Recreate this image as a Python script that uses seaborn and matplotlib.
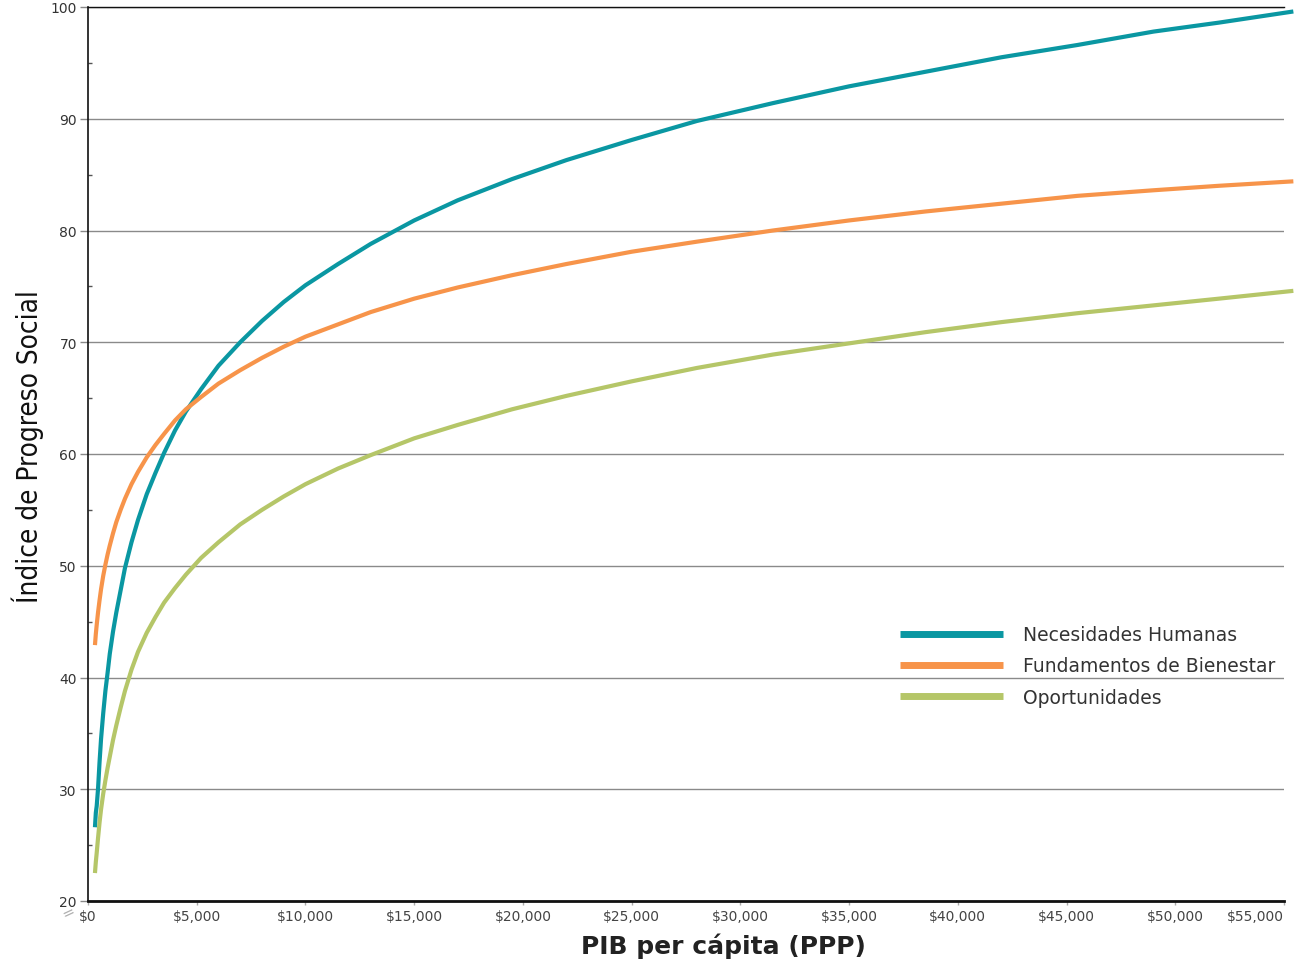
import matplotlib
matplotlib.use("Agg")
import matplotlib.pyplot as plt
import seaborn as sns
import pandas as pd
from matplotlib.ticker import MultipleLocator, FuncFormatter

# PIB per cápita (PPP) sample points
pib = [320, 360, 400, 460, 530, 600, 700, 800, 900, 1000, 1150, 1300, 1500, 1700, 2000, 2300,
       2700, 3100, 3500, 4000, 4500, 5200, 6000, 7000, 8000, 9000, 10000, 11500, 13000, 15000,
       17000, 19500, 22000, 25000, 28000, 31500, 35000, 38500, 42000, 45500, 49000, 52000, 55430]

necesidades = [26.6, 27.9, 28.5, 30.0, 32.4, 34.5, 36.8, 38.8, 40.4, 42.1, 44.1, 45.8, 47.8,
               49.8, 52.1, 54.1, 56.4, 58.3, 60.1, 62.1, 63.8, 65.8, 67.9, 70.0, 71.9, 73.6,
               75.1, 77.0, 78.8, 80.9, 82.7, 84.6, 86.3, 88.1, 89.8, 91.4, 92.9, 94.2, 95.5,
               96.6, 97.8, 98.6, 99.6]

fundamentos = [42.9, 43.9, 44.7, 45.8, 46.9, 47.9, 49.1, 50.1, 51.0, 51.8, 52.9, 53.9, 55.0,
               56.0, 57.3, 58.4, 59.7, 60.8, 61.8, 63.0, 64.0, 65.1, 66.3, 67.5, 68.6, 69.6,
               70.5, 71.6, 72.7, 73.9, 74.9, 76.0, 77.0, 78.1, 79.0, 80.0, 80.9, 81.7, 82.4,
               83.1, 83.6, 84.0, 84.4]

oportunidades = [22.5, 23.5, 24.3, 25.6, 27.0, 28.2, 29.6, 30.8, 31.9, 32.9, 34.4, 35.7, 37.3,
                 38.8, 40.7, 42.3, 44.0, 45.4, 46.7, 48.0, 49.2, 50.7, 52.1, 53.7, 55.0, 56.2,
                 57.3, 58.7, 59.9, 61.4, 62.6, 64.0, 65.2, 66.5, 67.7, 68.9, 69.9, 70.9, 71.8,
                 72.6, 73.3, 73.9, 74.6]

labels = ["Necesidades Humanas", "Fundamentos de Bienestar", "Oportunidades"]
colors = ["#0a97a2", "#f7944a", "#b5c668"]

x_ticks = list(range(0, 55001, 5000))
y_ticks = list(range(20, 101, 10))

sns.set_theme(style="white")
plt.rcParams["font.family"] = ["DejaVu Sans"]

fig = plt.figure(figsize=(13.02, 9.62), dpi=100)
ax = fig.add_axes([88 / 1302, 1 - 902 / 962, 1196 / 1302, 894 / 962])

for ys, lab, col in zip([necesidades, fundamentos, oportunidades], labels, colors):
    df = pd.DataFrame({"pib": pib, "ips": ys})
    sns.lineplot(data=df, x="pib", y="ips", ax=ax, color=col, linewidth=3,
                 label=lab, clip_on=False, solid_capstyle="butt", zorder=3)

ax.set_xlim(0, 55000)
ax.set_ylim(20, 100)
ax.set_xticks(x_ticks)
ax.set_yticks(y_ticks)
ax.yaxis.set_minor_locator(MultipleLocator(5))
ax.xaxis.set_major_formatter(FuncFormatter(lambda v, p: "${:,.0f}".format(v)))

ax.grid(axis="y", color="#8a8a8a", linewidth=1)
ax.grid(axis="x", visible=False)

for side in ["left", "top", "bottom"]:
    ax.spines[side].set_visible(True)
    ax.spines[side].set_color("#111111")
ax.spines["right"].set_visible(False)
ax.spines["left"].set_linewidth(1.2)
ax.spines["top"].set_linewidth(1.0)
ax.spines["bottom"].set_linewidth(2.0)

ax.tick_params(axis="y", which="major", left=True, direction="out", length=6, width=1,
               color="#888888", labelsize=10, labelcolor="#333333", pad=2)
ax.tick_params(axis="y", which="minor", left=True, direction="in", length=3, width=1,
               color="#555555")
ax.tick_params(axis="x", which="major", bottom=True, direction="out", length=3, width=1,
               color="#aaaaaa", labelsize=10, labelcolor="#444444", pad=3)

xt = ax.get_xticklabels()
xt[-1].set_horizontalalignment("right")

ax.set_xlabel("PIB per cápita (PPP)", fontsize=18, fontweight="bold", color="#222222")
ax.xaxis.set_label_coords((723 - 88) / 1196, -0.035)
ax.set_ylabel("Índice de Progreso Social", fontsize=20, color="#111111",
              fontstretch="condensed", fontweight="medium")
ax.yaxis.set_label_coords((44 - 88) / 1196, 0.509)

# axis break mark
ax.text(-0.016, -0.012, "=", transform=ax.transAxes, rotation=25, fontsize=11,
        color="#b0b0b0", ha="center", va="center", clip_on=False)

leg = ax.legend(loc="center left", bbox_to_anchor=((900 - 88) / 1196, (902 - 667) / 894),
                frameon=False, fontsize=13.5, handlelength=5.5, handletextpad=1.05,
                labelspacing=0.66, borderpad=0, borderaxespad=0)
for line in leg.get_lines():
    line.set_linewidth(5)
    line.set_solid_capstyle("butt")
for t in leg.get_texts():
    t.set_color("#333333")

fig.savefig("out.png", dpi=100)
